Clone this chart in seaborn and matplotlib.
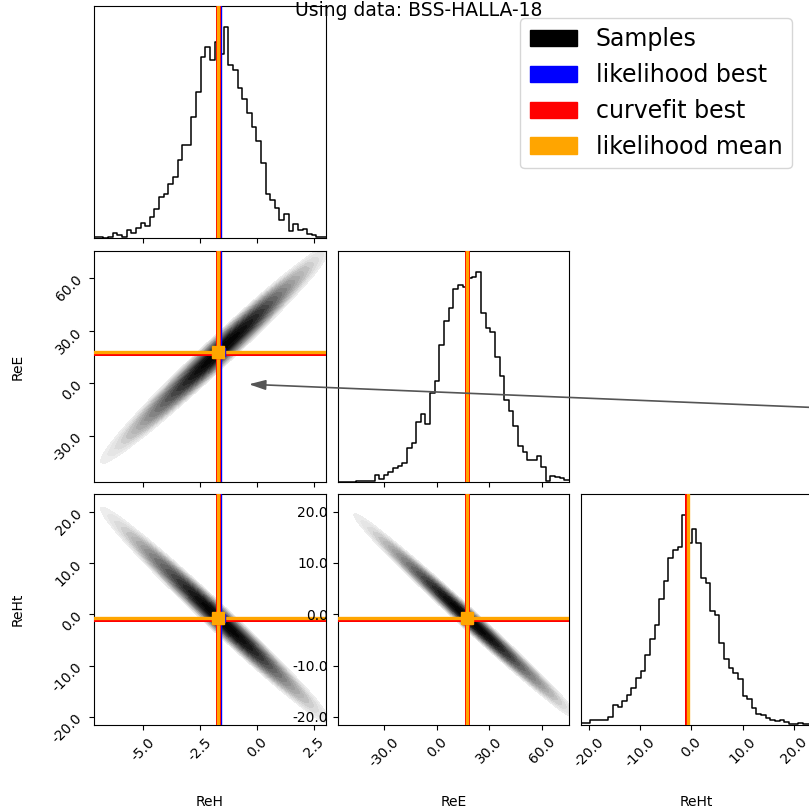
import numpy as np
import pandas as pd
import matplotlib
matplotlib.use("Agg")
import matplotlib.pyplot as plt
import seaborn as sns
from matplotlib.patches import Patch
from matplotlib.ticker import FormatStrFormatter
from matplotlib.colors import PowerNorm, LinearSegmentedColormap

# ---------------- data ----------------
params = ["ReH", "ReE", "ReHt"]
title = "Using data: BSS-HALLA-18"

range_reh = (-7.16, 3.03)
range_ree = (-56.5, 75.5)
range_reht = (-21.6, 23.5)

ticks_reh = [-5.0, -2.5, 0.0, 2.5]
ticks_ree = [-30.0, 0.0, 30.0, 60.0]
ticks_reht = [-20.0, -10.0, 0.0, 10.0, 20.0]

# 50-bin marginal histograms (relative counts)
hist_reh = [1, 1, 0, 1, 15, 7, 2, 22, 15, 29, 44, 35, 62, 87, 122, 132, 162, 182,
            234, 277, 277, 362, 437, 542, 570, 532, 587, 550, 630, 517, 502, 447,
            414, 372, 332, 290, 224, 132, 114, 90, 52, 72, 19, 42, 22, 27, 12, 7, 2, 2]
hist_ree = [0, 1, 1, 1, 3, 4, 5, 5, 22, 11, 22, 30, 43, 50, 58, 103, 118, 180,
            203, 175, 268, 303, 410, 482, 523, 578, 591, 586, 613, 616, 630, 508,
            463, 450, 375, 318, 246, 213, 168, 110, 90, 68, 68, 80, 46, 3, 18, 16, 13, 8]
hist_reht = [6, 8, 17, 17, 17, 17, 24, 60, 55, 72, 90, 112, 144, 164, 212, 262,
             302, 380, 435, 505, 529, 540, 636, 550, 594, 550, 444, 429, 344, 334,
             247, 200, 172, 157, 140, 87, 80, 52, 35, 32, 22, 17, 12, 15, 9, 5, 4, 8, 4, 4]

# reference values
likelihood_best = [-1.58, 17.8, -0.8]
curvefit_best = [-1.73, 17.4, -0.85]
likelihood_mean = [-1.72, 17.6, -0.75]

# joint sample clouds: column centres, ridge of the cloud, column mass
reh_cols = [-6.85, -6.35, -5.85, -5.35, -4.85, -4.35, -3.85, -3.35, -2.85, -2.35,
            -1.85, -1.35, -0.85, -0.35, 0.15, 0.65, 1.15, 1.65, 2.15, 2.65]
reh_col_mass = [2, 17, 22, 56, 109, 236, 380, 585, 823, 1290,
                1370, 1403, 1168, 919, 646, 284, 165, 71, 50, 11]
ree_ridge_on_reh = [-44.1, -38.1, -32.1, -26.1, -20.1, -14.1, -8.1, -2.1, 3.9, 9.9,
                    15.9, 21.9, 27.9, 33.9, 39.9, 45.9, 51.9, 57.9, 63.9, 69.9]
reht_ridge_on_reh = [20.4, 18.4, 16.3, 14.3, 12.2, 10.2, 8.1, 6.1, 4.0, 2.0,
                     -0.1, -2.1, -4.2, -6.2, -8.3, -10.3, -12.4, -14.4, -16.5, -18.5]

ree_cols = [-49, -43, -37, -31, -25, -19, -13, -7, -1, 5, 11, 17, 23, 29, 35,
            41, 47, 53, 59, 65, 71]
ree_col_mass = [2, 8, 20, 39, 81, 140, 296, 429, 656, 1051, 1290, 1364, 1385,
                1078, 845, 535, 297, 168, 148, 29, 30]
reht_ridge_on_ree = [19.9, 18.1, 16.2, 14.4, 12.5, 10.6, 8.8, 6.9, 5.1, 3.2, 1.3,
                     -0.5, -2.4, -4.2, -6.1, -8.0, -9.8, -11.7, -13.5, -15.4, -17.3]

# vertical scatter step of the cloud around its ridge
spread_reh_ree = 2.8
spread_reh_reht = 0.83
spread_ree_reht = 0.64

# ---------------- helpers ----------------
ranges = [range_reh, range_ree, range_reht]
ticks = [ticks_reh, ticks_ree, ticks_reht]
hists = [hist_reh, hist_ree, hist_reht]

OFFS = (-3, -2, -1, 0, 1, 2, 3)
OFF_W = (1 / 64, 6 / 64, 15 / 64, 20 / 64, 15 / 64, 6 / 64, 1 / 64)


def cloud_table(xc, ridge, mass, d):
    xs, ys, ws = [], [], []
    for x, r, m in zip(xc, ridge, mass):
        for k, f in zip(OFFS, OFF_W):
            xs.append(x)
            ys.append(r + k * d)
            ws.append(m * f)
    return pd.DataFrame({"x": xs, "y": ys, "w": ws})


clouds = {
    (1, 0): cloud_table(reh_cols, ree_ridge_on_reh, reh_col_mass, spread_reh_ree),
    (2, 0): cloud_table(reh_cols, reht_ridge_on_reh, reh_col_mass, spread_reh_reht),
    (2, 1): cloud_table(ree_cols, reht_ridge_on_ree, ree_col_mass, spread_ree_reht),
}

cloud_levels = [0.004, 0.008, 0.014, 0.022, 0.032, 0.045, 0.06, 0.08, 0.1, 0.13,
                0.17, 0.22, 0.28, 0.35, 0.43, 0.52, 0.62, 0.74, 0.87, 1.0]
cloud_cmap = LinearSegmentedColormap.from_list(
    "cloud", [(0.0, "#f5f5f5"), (0.1, "#e2e2e2"), (0.173, "#c4c4c4"),
              (0.316, "#959595"), (0.447, "#707070"), (0.592, "#4a4a4a"),
              (0.707, "#2e2e2e"), (0.837, "#141414"), (1.0, "#000000")])

W = 809.0
fig = plt.figure(figsize=(8.09, 8.09), dpi=100)

size = 231.5 / W
col_left = [94.2 / W, 337.5 / W, 580.5 / W]
row_bottom = [1 - 237.7 / W, 1 - 482.3 / W, 1 - 725.2 / W]

fmt = FormatStrFormatter("%.1f")

axes = {}
for i in range(3):
    for j in range(i + 1):
        ax = fig.add_axes([col_left[j], row_bottom[i], size, size])
        axes[(i, j)] = ax

lw_blue, lw_red, lw_orange = 1.0, 3.6, 2.4

for i in range(3):
    for j in range(i + 1):
        ax = axes[(i, j)]
        if i == j:
            lo, hi = ranges[i]
            step = (hi - lo) / len(hists[i])
            centers = [lo + step * (k + 0.5) for k in range(len(hists[i]))]
            hdf = pd.DataFrame({"v": centers, "c": hists[i]})
            sns.histplot(data=hdf, x="v", weights="c", bins=len(hists[i]),
                         binrange=(lo, hi), element="step",
                         fill=False, color="black", linewidth=1.1, ax=ax)
            ax.set_xlim(lo, hi)
            ax.set_ylim(0, max(hists[i]) * 1.1)
            ax.set_yticks([])
            ax.axvline(likelihood_best[i], color="blue", lw=lw_blue, zorder=3)
            ax.axvline(curvefit_best[i], color="red", lw=lw_red, zorder=4)
            ax.axvline(likelihood_mean[i], color="orange", lw=lw_orange, zorder=5)
        else:
            df = clouds[(i, j)]
            sns.kdeplot(data=df, x="x", y="y", weights="w", fill=True,
                        levels=cloud_levels, cmap=cloud_cmap, norm=PowerNorm(0.5),
                        bw_adjust=0.75, gridsize=300, ax=ax, zorder=1)
            ax.set_xlim(*ranges[j])
            ax.set_ylim(*ranges[i])
            ax.set_yticks(ticks[i])
            ax.yaxis.set_major_formatter(fmt)
            for vals, c, lw in ((likelihood_best, "blue", lw_blue),
                                (curvefit_best, "red", lw_red),
                                (likelihood_mean, "orange", lw_orange)):
                ax.axvline(vals[j], color=c, lw=lw, zorder=3)
                ax.axhline(vals[i], color=c, lw=lw, zorder=3)
            for vals, c, ms in ((likelihood_best, "blue", 6), (curvefit_best, "red", 7),
                                (likelihood_mean, "orange", 8)):
                ax.plot([vals[j]], [vals[i]], "s", color=c, ms=ms, zorder=6)
        ax.set_xticks(ticks[j])
        ax.xaxis.set_major_formatter(fmt)
        ax.set_xlabel("")
        ax.set_ylabel("")
        if i < 2:
            ax.tick_params(axis="x", labelbottom=False)
        else:
            ax.tick_params(axis="x", labelrotation=45)
            ax.set_xlabel(params[j], fontsize=10)
            ax.xaxis.set_label_coords(0.5, -0.3)
        if j == 0 and i > 0:
            ax.tick_params(axis="y", labelrotation=45)
            ax.set_ylabel(params[i], fontsize=10)
            ax.yaxis.set_label_coords(-0.3, 0.5)

# arrow coming in from the right edge
ax_arrow = axes[(1, 0)]
ax_arrow.set_zorder(5)
ax_arrow.annotate("", xy=(-0.35, -0.6), xycoords="data",
                  xytext=(1.11, 0.492), textcoords="figure fraction",
                  arrowprops=dict(arrowstyle="-|>,head_length=1.0,head_width=0.3",
                                  color="#555555", lw=1.2, shrinkA=0, shrinkB=0),
                  annotation_clip=False)

handles = [Patch(color="black", label="Samples"),
           Patch(color="blue", label="likelihood best"),
           Patch(color="red", label="curvefit best"),
           Patch(color="orange", label="likelihood mean")]
fig.legend(handles=handles, loc="upper right", bbox_to_anchor=(792 / W, 1 - 18 / W),
           borderaxespad=0, fontsize=17)

fig.text(419 / W, 1 - 1.5 / W, title, ha="center", va="top", fontsize=13.5)

fig.savefig("out.png", dpi=100)
